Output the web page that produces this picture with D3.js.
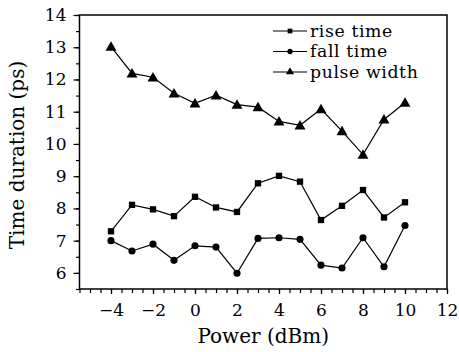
<!DOCTYPE html>
<html><head><meta charset="utf-8">
<script src="https://cdn.jsdelivr.net/npm/d3@7/dist/d3.min.js"></script>
<style>body{margin:0;background:#fff}svg{display:block}</style>
</head><body>
<svg id="c" width="459" height="352"></svg>
<script>
const power = [-4,-3,-2,-1,0,1,2,3,4,5,6,7,8,9,10];
const riseTime = [7.29,8.11,7.97,7.76,8.36,8.03,7.89,8.78,9.01,8.83,7.64,8.08,8.57,7.72,8.19];
const fallTime = [7.00,6.68,6.89,6.39,6.84,6.80,5.99,7.07,7.09,7.04,6.24,6.15,7.09,6.19,7.47];
const pulseWidth = [13.02,12.19,12.07,11.57,11.26,11.51,11.22,11.14,10.70,10.58,11.08,10.40,9.67,10.76,11.28];
const xTicks = [-4,-2,0,2,4,6,8,10,12];
const yTicks = [6,7,8,9,10,11,12,13,14];
const seriesNames = ["rise time","fall time","pulse width"];

const svg = d3.select("#c");
const L=79.5, R=447, T=15, B=289;
const font = "DejaVu Serif";
const x = d3.scaleLinear().domain([-5.5,12]).range([L,R]);
const y = d3.scaleLinear().domain([5.5,14]).range([B,T]);

// minor ticks
const xMinor = d3.range(-5.5,12.01,0.5);
const yMinor = d3.range(5.5,14.01,0.5);
const gx = svg.append("g").attr("transform",`translate(0,${B})`);
gx.append("g").call(d3.axisBottom(x).tickValues(xMinor).tickSize(4).tickFormat(""))
  .call(g=>g.select(".domain").remove());
gx.append("g").call(d3.axisBottom(x).tickValues(xTicks).tickSize(5).tickPadding(10)
  .tickFormat(d=>d<0?"\u2212"+Math.abs(d):d))
  .call(g=>g.select(".domain").remove());
gx.selectAll("text").attr("font-family",font).attr("font-size",17).attr("fill","#000");
gx.selectAll("line").attr("stroke","#000").attr("stroke-width",1.2);

const gy = svg.append("g").attr("transform",`translate(${L},0)`);
gy.append("g").call(d3.axisLeft(y).tickValues(yMinor).tickSize(3.5).tickFormat(""))
  .call(g=>g.select(".domain").remove());
gy.append("g").call(d3.axisLeft(y).tickValues(yTicks).tickSize(6).tickPadding(7))
  .call(g=>g.select(".domain").remove());
gy.selectAll("text").attr("font-family",font).attr("font-size",17).attr("fill","#000");
gy.selectAll("line").attr("stroke","#000").attr("stroke-width",1.2);

// frame
svg.append("rect").attr("x",L).attr("y",T).attr("width",R-L).attr("height",B-T)
  .attr("fill","none").attr("stroke","#000").attr("stroke-width",1.5);

const line = d3.line().x(d=>x(d[0])).y(d=>y(d[1]));
const sym = [d3.symbolSquare, d3.symbolCircle, d3.symbolTriangle];
const symSize = [40, 40, 52];
const data = [riseTime, fallTime, pulseWidth];
data.forEach((vals,i)=>{
  const pts = power.map((p,j)=>[p,vals[j]]);
  svg.append("path").attr("d",line(pts)).attr("fill","none").attr("stroke","#000").attr("stroke-width",1.2);
  svg.append("g").selectAll("path").data(pts).join("path")
    .attr("transform",d=>`translate(${x(d[0])},${y(d[1]) + (i===2?1:0)})`)
    .attr("d",d3.symbol().type(sym[i]).size(symSize[i])).attr("fill","#000");
});

// legend
const legY = [31,51.5,72];
seriesNames.forEach((n,i)=>{
  const g = svg.append("g").attr("transform",`translate(0,${legY[i]})`);
  g.append("line").attr("x1",273).attr("x2",307).attr("y1",0).attr("y2",0).attr("stroke","#000").attr("stroke-width",1.2);
  g.append("path").attr("transform","translate(290,0)").attr("d",d3.symbol().type(sym[i]).size(symSize[i]*0.55)).attr("fill","#000");
  g.append("text").attr("x",310).attr("y",5.5).attr("font-family",font).attr("font-size",17.3)
    .attr("letter-spacing",0.6).text(n);
});

// axis titles
svg.append("text").attr("x",(L+R)/2).attr("y",343).attr("text-anchor","middle")
  .attr("font-family",font).attr("font-size",20).text("Power (dBm)");
svg.append("text").attr("transform",`translate(24,${(T+B)/2+3}) rotate(-90)`).attr("text-anchor","middle")
  .attr("font-family",font).attr("font-size",20).text("Time duration (ps)");
</script>
</body></html>
